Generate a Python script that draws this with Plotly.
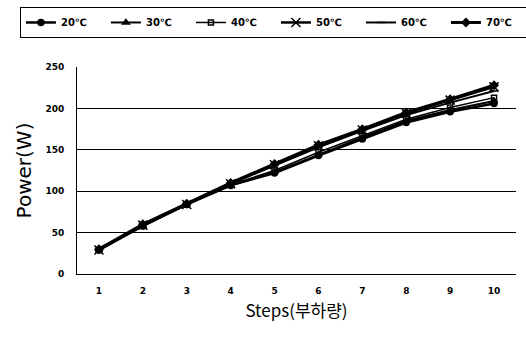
import plotly.graph_objects as go

steps = ["1", "2", "3", "4", "5", "6", "7", "8", "9", "10"]
series_names = ["20℃", "30℃", "40℃", "50℃", "60℃", "70℃"]
p20 = [29, 58, 84, 107, 122, 143, 163, 183, 196, 206]
p30 = [29, 58, 84, 107, 123, 144, 165, 185, 198, 209]
p40 = [29, 58, 84, 108, 125, 147, 167, 187, 201, 213]
p50 = [29, 59, 84, 109, 132, 155, 174, 194, 210, 226]
p60 = [29, 59, 84, 109, 131, 153, 173, 192, 207, 221]
p70 = [30, 60, 85, 110, 133, 156, 175, 195, 211, 228]
y_ticks = [0, 50, 100, 150, 200, 250]

values = [p20, p30, p40, p50, p60, p70]
symbols = ["circle", "triangle-up", "square-open", "x-thin-open", "line-ew-open", "diamond"]
sizes = [6, 6, 5, 9, 6, 6]
widths = [2.5, 2, 1.5, 2.5, 2, 3]

fig = go.Figure()
for name, vals, sym, sz, w in zip(series_names, values, symbols, sizes, widths):
    fig.add_trace(go.Scatter(
        x=steps, y=vals, name=name, mode="lines+markers",
        line=dict(color="black", width=w),
        marker=dict(symbol=sym, size=sz, color="black",
                    line=dict(color="black", width=1.5)),
    ))

fig.update_layout(
    width=526, height=337,
    margin=dict(l=77, r=10, t=67, b=63, autoexpand=False),
    paper_bgcolor="white", plot_bgcolor="white",
    font=dict(family="DejaVu Sans", color="black"),
    showlegend=True,
    legend=dict(
        orientation="h", x=-0.13, y=1.29, xanchor="left", yanchor="top",
        bordercolor="black", borderwidth=1, bgcolor="white",
        font=dict(size=10, family="DejaVu Sans", weight="bold"),
        itemwidth=30, entrywidth=40, entrywidthmode="pixels", tracegroupgap=0,
    ),
    xaxis=dict(
        type="category", range=[-0.5, 9.5],
        showline=True, linecolor="black", linewidth=1,
        showgrid=False, ticks="", ticklabelstandoff=8,
        tickfont=dict(size=9, family="DejaVu Sans", weight="bold"),
        title=dict(text="Steps(부하량)", font=dict(size=17, family="Noto Sans CJK KR"), standoff=10),
    ),
    yaxis=dict(
        range=[0, 250], tickvals=y_ticks,
        showline=True, linecolor="black", linewidth=1, mirror=False,
        showgrid=True, gridcolor="black", gridwidth=1,
        zeroline=False, ticks="", ticklabelstandoff=10,
        tickfont=dict(size=9, family="DejaVu Sans", weight="bold"),
        title=dict(text="Power(W)", font=dict(size=20, family="DejaVu Sans"), standoff=8),
    ),
)

fig.write_html("out.html", config={"displayModeBar": False},
               post_script="document.body.style.margin='0';")
